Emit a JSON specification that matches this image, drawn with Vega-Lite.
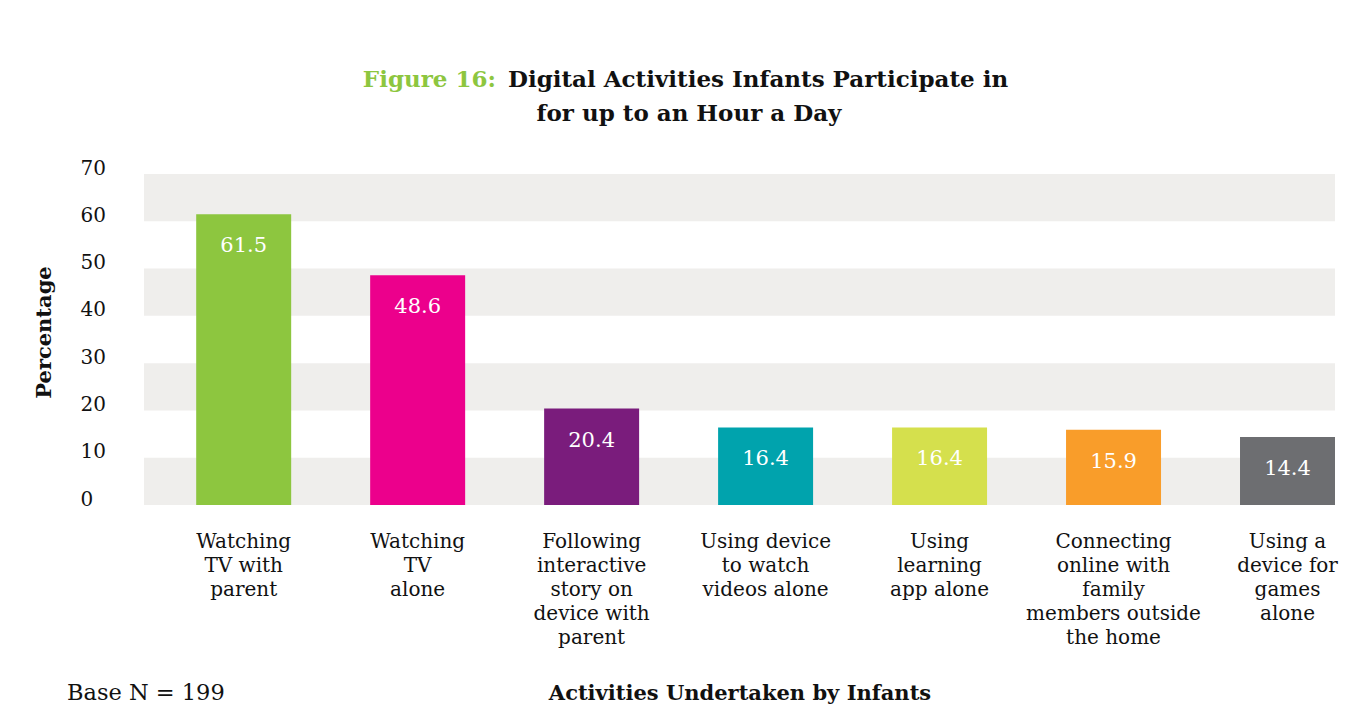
{
  "$schema": "https://vega.github.io/schema/vega-lite/v6.json",
  "width": 1191,
  "height": 331,
  "autosize": {"type": "none"},
  "padding": {"left": 144, "top": 174, "right": 23, "bottom": 218},
  "background": "white",
  "config": {
    "view": {"stroke": null},
    "font": "DejaVu Serif",
    "text": {"font": "DejaVu Serif"}
  },
  "datasets": {
    "bars": [
      {"activity": "Watching TV with parent", "pct": 61.5},
      {"activity": "Watching TV alone", "pct": 48.6},
      {"activity": "Following interactive story on device with parent", "pct": 20.4},
      {"activity": "Using device to watch videos alone", "pct": 16.4},
      {"activity": "Using learning app alone", "pct": 16.4},
      {"activity": "Connecting online with family members outside the home", "pct": 15.9},
      {"activity": "Using a device for games alone", "pct": 14.4}
    ],
    "bands": [
      {"lo": 0, "hi": 10},
      {"lo": 20, "hi": 30},
      {"lo": 40, "hi": 50},
      {"lo": 60, "hi": 70}
    ]
  },
  "layer": [
    {
      "data": {"name": "bands"},
      "mark": {"type": "rect", "color": "#EFEEEC"},
      "encoding": {
        "y": {"field": "lo", "type": "quantitative", "scale": {"domain": [0, 70], "nice": false}},
        "y2": {"field": "hi"}
      }
    },
    {
      "data": {"name": "bars"},
      "mark": {"type": "bar"},
      "encoding": {
        "x": {
          "field": "activity", "type": "nominal", "sort": null,
          "scale": {"paddingInner": 0.454, "paddingOuter": 0.15, "align": 1},
          "axis": {
            "title": "Activities Undertaken by Infants",
            "titleFont": "DejaVu Serif",
            "titleFontWeight": "bold",
            "titleFontSize": 21,
            "titleColor": "#111111",
            "titleBaseline": "alphabetic",
            "titleY": 194,
            "labelAngle": 0,
            "labelFont": "DejaVu Serif",
            "labelFontSize": 20,
            "labelColor": "#111111",
            "labelLineHeight": 24,
            "labelBaseline": "top",
            "labelPadding": 26,
            "labelLimit": 400,
            "domain": false,
            "ticks": false,
            "labelExpr": "{'Watching TV with parent': ['Watching', 'TV with', 'parent'], 'Watching TV alone': ['Watching', 'TV', 'alone'], 'Following interactive story on device with parent': ['Following', 'interactive', 'story on', 'device with', 'parent'], 'Using device to watch videos alone': ['Using device', 'to watch', 'videos alone'], 'Using learning app alone': ['Using', 'learning', 'app alone'], 'Connecting online with family members outside the home': ['Connecting', 'online with', 'family', 'members outside', 'the home'], 'Using a device for games alone': ['Using a', 'device for', 'games', 'alone']}[datum.value]"
          }
        },
        "y": {
          "field": "pct", "type": "quantitative",
          "scale": {"domain": [0, 70], "nice": false},
          "axis": {
            "title": "Percentage",
            "titleFont": "DejaVu Serif",
            "titleFontWeight": "bold",
            "titleFontSize": 21,
            "titleColor": "#111111",
            "titleAngle": -90,
            "titleAlign": "center",
            "titleBaseline": "middle",
            "titleX": -100,
            "titleY": 158,
            "values": [0, 10, 20, 30, 40, 50, 60, 70],
            "labelAlign": "left",
            "labelBaseline": "alphabetic",
            "labelPadding": 64,
            "labelFontSize": 20,
            "labelColor": "#111111",
            "domain": false,
            "ticks": false,
            "grid": false
          }
        },
        "color": {
          "field": "activity", "type": "nominal", "legend": null,
          "scale": {
            "domain": ["Watching TV with parent", "Watching TV alone", "Following interactive story on device with parent", "Using device to watch videos alone", "Using learning app alone", "Connecting online with family members outside the home", "Using a device for games alone"],
            "range": ["#8DC63F", "#EC008C", "#7A1C7C", "#00A3AD", "#D5E04D", "#F99D2A", "#6D6E71"]
          }
        }
      }
    },
    {
      "data": {"name": "bars"},
      "mark": {"type": "text", "color": "white", "fontSize": 21, "baseline": "alphabetic", "dy": 38},
      "encoding": {
        "x": {"field": "activity", "type": "nominal", "sort": null},
        "y": {"field": "pct", "type": "quantitative"},
        "text": {"field": "pct", "type": "quantitative", "format": ".1f"}
      }
    },
    {
      "data": {"values": [{}]},
      "mark": {"type": "text", "text": "Figure 16:", "color": "#8DC63F", "font": "DejaVu Serif", "fontWeight": "bold", "fontSize": 23, "align": "right", "baseline": "alphabetic", "dx": -269.6, "dy": -87},
      "encoding": {
        "x": {"datum": "Using device to watch videos alone"},
        "y": {"datum": 70}
      }
    },
    {
      "data": {"values": [{}]},
      "mark": {"type": "text", "text": "Digital Activities Infants Participate in", "color": "#111111", "font": "DejaVu Serif", "fontWeight": "bold", "fontSize": 23, "align": "left", "baseline": "alphabetic", "dx": -257.6, "dy": -87},
      "encoding": {
        "x": {"datum": "Using device to watch videos alone"},
        "y": {"datum": 70}
      }
    },
    {
      "data": {"values": [{}]},
      "mark": {"type": "text", "text": "for up to an Hour a Day", "color": "#111111", "font": "DejaVu Serif", "fontWeight": "bold", "fontSize": 23, "align": "center", "baseline": "alphabetic", "dx": -76.6, "dy": -53},
      "encoding": {
        "x": {"datum": "Using device to watch videos alone"},
        "y": {"datum": 70}
      }
    },
    {
      "data": {"values": [{}]},
      "mark": {"type": "text", "text": "Base N = 199", "color": "#111111", "font": "DejaVu Serif", "fontSize": 22.5, "align": "left", "baseline": "alphabetic", "dx": -176.7, "dy": 195},
      "encoding": {
        "x": {"datum": "Watching TV with parent"},
        "y": {"datum": 0}
      }
    }
  ]
}
